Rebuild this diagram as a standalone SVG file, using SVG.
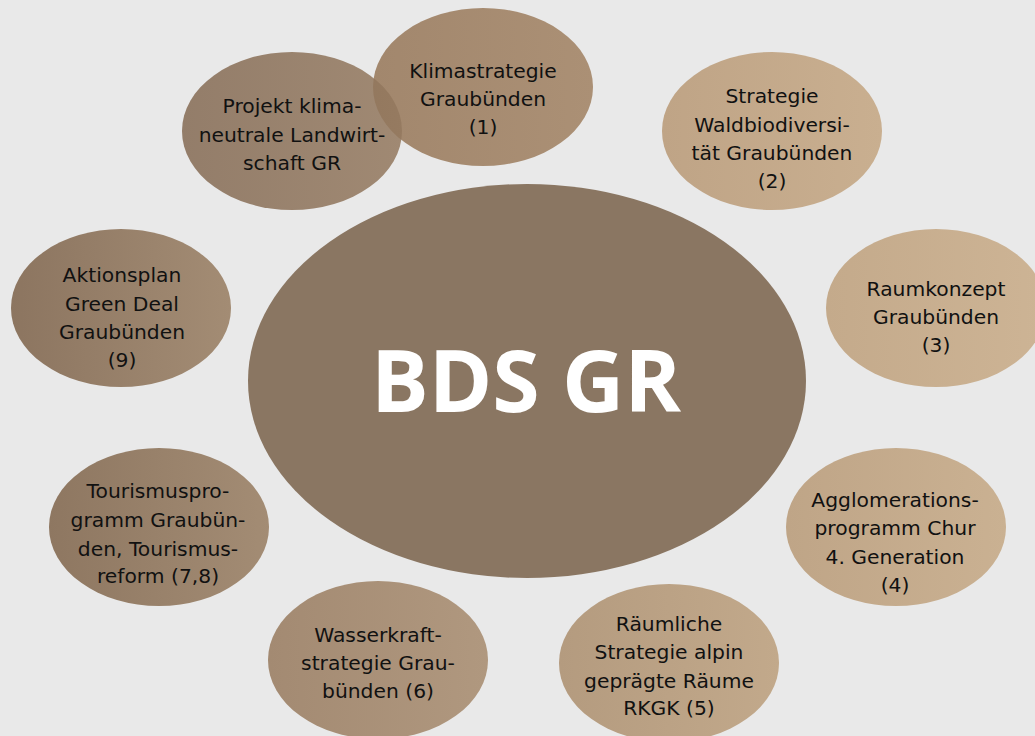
<svg xmlns="http://www.w3.org/2000/svg" width="1035" height="736" viewBox="0 0 1035 736">
<defs>
<linearGradient id="g1" x1="0" y1="0" x2="1" y2="0"><stop offset="0" stop-color="#a2876d"/><stop offset="1" stop-color="#ab9075"/></linearGradient>
<linearGradient id="gP" x1="0" y1="0" x2="1" y2="0"><stop offset="0" stop-color="#846a53"/><stop offset="1" stop-color="#93785e"/></linearGradient>
<linearGradient id="g2" x1="0" y1="0" x2="1" y2="0"><stop offset="0" stop-color="#bfa486"/><stop offset="1" stop-color="#c9af90"/></linearGradient>
<linearGradient id="g3" x1="0" y1="0" x2="1" y2="0"><stop offset="0" stop-color="#c4aa8b"/><stop offset="1" stop-color="#cdb495"/></linearGradient>
<linearGradient id="g4" x1="0" y1="0" x2="1" y2="0"><stop offset="0" stop-color="#bfa587"/><stop offset="1" stop-color="#cab192"/></linearGradient>
<linearGradient id="g5" x1="0" y1="0" x2="1" y2="0"><stop offset="0" stop-color="#b49b7f"/><stop offset="1" stop-color="#c2a98b"/></linearGradient>
<linearGradient id="g6" x1="0" y1="0" x2="1" y2="0"><stop offset="0" stop-color="#a38a72"/><stop offset="1" stop-color="#b0987f"/></linearGradient>
<linearGradient id="g7" x1="0" y1="0" x2="1" y2="0"><stop offset="0" stop-color="#8e7761"/><stop offset="1" stop-color="#a38c74"/></linearGradient>
<linearGradient id="g9" x1="0" y1="0" x2="1" y2="0"><stop offset="0" stop-color="#8c7560"/><stop offset="1" stop-color="#a38c74"/></linearGradient>
</defs>
<style>
text{font-family:"DejaVu Sans","Liberation Sans",sans-serif;font-size:20.3px;fill:#111;text-anchor:middle}
.big{font-family:"Open Sans","Noto Sans",sans-serif;font-size:86px;font-weight:700;fill:#fff}
</style>
<rect width="1035" height="736" fill="#e9e9e9"/>
<g id="connectors"/>
<g id="center">
<ellipse cx="527" cy="381" rx="279" ry="197" fill="#8a7662"/>
<text class="big" x="526" y="412">BDS GR</text>
</g>
<g id="n1">
<ellipse cx="483" cy="87" rx="110" ry="79" fill="url(#g1)"/>
<text x="483" y="78">Klimastrategie</text>
<text x="483" y="106">Graubünden</text>
<text x="483" y="134">(1)</text>
</g>
<g id="n10">
<ellipse cx="292" cy="131" rx="110" ry="79" fill="url(#gP)" opacity="0.85"/>
<text x="292" y="113">Projekt klima-</text>
<text x="292" y="142">neutrale Landwirt-</text>
<text x="292" y="170">schaft GR</text>
</g>
<g id="n2">
<ellipse cx="772" cy="131" rx="110" ry="79" fill="url(#g2)"/>
<text x="772" y="103">Strategie</text>
<text x="772" y="132">Waldbiodiversi-</text>
<text x="772" y="160">tät Graubünden</text>
<text x="772" y="188">(2)</text>
</g>
<g id="n3">
<ellipse cx="936" cy="308" rx="110" ry="79" fill="url(#g3)"/>
<text x="936" y="296">Raumkonzept</text>
<text x="936" y="324">Graubünden</text>
<text x="936" y="352">(3)</text>
</g>
<g id="n4">
<ellipse cx="896" cy="527" rx="110" ry="79" fill="url(#g4)"/>
<text x="895" y="507">Agglomerations-</text>
<text x="895" y="535">programm Chur</text>
<text x="895" y="564">4. Generation</text>
<text x="895" y="592">(4)</text>
</g>
<g id="n5">
<ellipse cx="669" cy="663" rx="110" ry="79" fill="url(#g5)"/>
<text x="669" y="631">Räumliche</text>
<text x="669" y="659">Strategie alpin</text>
<text x="669" y="688">geprägte Räume</text>
<text x="669" y="715">RKGK (5)</text>
</g>
<g id="n6">
<ellipse cx="378" cy="660" rx="110" ry="79" fill="url(#g6)"/>
<text x="378" y="642">Wasserkraft-</text>
<text x="378" y="670">strategie Grau-</text>
<text x="378" y="698">bünden (6)</text>
</g>
<g id="n7">
<ellipse cx="159" cy="527" rx="110" ry="79" fill="url(#g7)"/>
<text x="158" y="498">Tourismuspro-</text>
<text x="158" y="527">gramm Graubün-</text>
<text x="158" y="556">den, Tourismus-</text>
<text x="158" y="583">reform (7,8)</text>
</g>
<g id="n9">
<ellipse cx="121" cy="308" rx="110" ry="79" fill="url(#g9)"/>
<text x="122" y="282">Aktionsplan</text>
<text x="122" y="311">Green Deal</text>
<text x="122" y="339">Graubünden</text>
<text x="122" y="367">(9)</text>
</g>
</svg>
